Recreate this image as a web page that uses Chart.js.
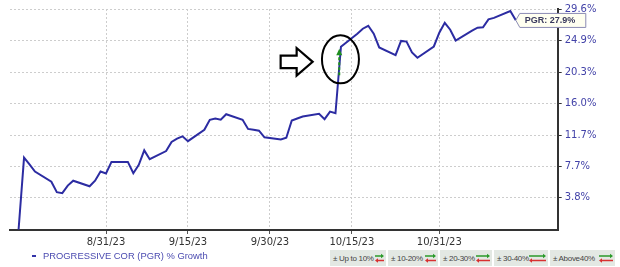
<!DOCTYPE html>
<html><head><meta charset="utf-8">
<script src="https://cdn.jsdelivr.net/npm/chart.js@4.4.1/dist/chart.umd.min.js"></script>
<style>
html,body{margin:0;padding:0;background:#fff;width:620px;height:267px;overflow:hidden;}
#wrap{position:relative;width:620px;height:267px;}
canvas{position:absolute;left:0;top:0;}
#legend{position:absolute;left:32px;top:250px;font:9.4px 'Liberation Sans',Arial,sans-serif;color:#4a4ab0;white-space:nowrap;line-height:12px}
#legend .dash{display:inline-block;width:4px;height:2px;background:#3434a8;vertical-align:middle;margin-right:7px;position:relative;top:-1px}
#bands{position:absolute;left:330px;top:250px;height:16px;}
.band{position:absolute;top:0;background:#e3e8e3;height:16px;display:flex;align-items:center;justify-content:space-between;padding:0 2px 0 3px;font:8px 'Liberation Sans',Arial,sans-serif;color:#444;white-space:nowrap;letter-spacing:-0.3px;box-sizing:border-box}
.band svg{display:block}
</style></head>
<body><div id="wrap"><canvas id="c" width="620" height="267"></canvas>
<div id="legend"><span class="dash"></span><span id="legtext"></span></div>
<div id="bands"></div></div>
<script>
// ---- data ----
const dates = ['2023-08-15','2023-08-16','2023-08-17','2023-08-18','2023-08-21','2023-08-22','2023-08-23','2023-08-24','2023-08-25',
 '2023-08-28','2023-08-29','2023-08-30','2023-08-31','2023-09-01','2023-09-04','2023-09-05','2023-09-06','2023-09-07','2023-09-08',
 '2023-09-11','2023-09-12','2023-09-13','2023-09-14','2023-09-15','2023-09-18','2023-09-19','2023-09-20','2023-09-21','2023-09-22',
 '2023-09-25','2023-09-26','2023-09-27','2023-09-28','2023-09-29','2023-10-02','2023-10-03','2023-10-04','2023-10-05','2023-10-06',
 '2023-10-09','2023-10-10','2023-10-11','2023-10-12','2023-10-13','2023-10-16','2023-10-17','2023-10-18','2023-10-19','2023-10-20',
 '2023-10-23','2023-10-24','2023-10-25','2023-10-26','2023-10-27','2023-10-30','2023-10-31','2023-11-01','2023-11-02','2023-11-03',
 '2023-11-06','2023-11-07','2023-11-08','2023-11-09','2023-11-10','2023-11-13','2023-11-14'];
const growth = [0.0,8.81,7.95,7.05,5.78,4.48,4.36,5.29,5.90,
 5.21,5.90,7.05,6.81,8.27,8.27,6.83,7.89,9.75,8.61,
 9.66,10.85,11.28,11.58,10.94,12.43,13.77,13.94,13.77,14.51,
 13.77,12.55,12.43,12.32,11.45,11.16,11.39,13.67,13.94,14.20,
 14.56,13.85,14.87,14.64,23.97,25.89,26.63,27.07,25.89,23.87,
 22.76,24.83,24.73,23.15,22.37,24.01,26.04,27.51,26.48,24.88,
 26.33,26.78,26.85,28.03,28.25,29.30,27.9];
const xTickDates = ['2023-08-31','2023-09-15','2023-09-30','2023-10-15','2023-10-31'];
const yTicks = [3.8,7.7,11.7,16.0,20.3,24.9,29.6];
const seriesLabel = 'PROGRESSIVE COR (PGR) % Growth';
const tickerLabel = 'PGR';
const bandLabels = ['\u00b1 Up to 10%','\u00b1 10-20%','\u00b1 20-30%','\u00b1 30-40%','\u00b1 Above40%'];
const jumpDate = '2023-10-13';
const jumpMid = 22.15;

// ---- helpers ----
const dayNum = s => Date.UTC(+s.slice(0,4), +s.slice(5,7)-1, +s.slice(8,10)) / 864e5;
const fmtDay = v => { const d = new Date(v*864e5); return (d.getUTCMonth()+1)+'/'+d.getUTCDate()+'/'+String(d.getUTCFullYear()).slice(2); };
const ref = dayNum('2023-08-31');

document.getElementById('legtext').textContent = seriesLabel;

// bands legend
const bandGeom = [[0,56,7],[58,50,9],[110,52,12],[164,54,15],[220,65,12]];
const bandsEl = document.getElementById('bands');
bandLabels.forEach((t,i)=>{
  const [l,w,aw] = bandGeom[i];
  const d = document.createElement('div');
  d.className='band'; d.style.left=l+'px'; d.style.width=w+'px';
  const s = document.createElement('span'); s.textContent = t; d.appendChild(s);
  const W = aw+2;
  d.insertAdjacentHTML('beforeend',
   `<svg width="${W}" height="10" viewBox="0 0 ${W} 10"><line x1="0" y1="3" x2="${W-2}" y2="3" stroke="#2a9a2a" stroke-width="1.5"/><polygon points="${W},3 ${W-3},0.8 ${W-3},5.2" fill="#2a9a2a"/><line x1="2" y1="7.5" x2="${W}" y2="7.5" stroke="#d83030" stroke-width="1.5"/><polygon points="0,7.5 3,5.3 3,9.7" fill="#d83030"/></svg>`);
  bandsEl.appendChild(d);
});

const annot = {
  id:'annot',
  afterDatasetsDraw(chart){
    const {ctx, scales:{x,y}} = chart;
    const jx = x.getPixelForValue(dayNum(jumpDate)) - 0.5;
    const jy = y.getPixelForValue(100 + jumpMid);
    ctx.save();
    // ellipse
    ctx.beginPath(); ctx.ellipse(jx, jy, 18.5, 24, 0, 0, Math.PI*2);
    ctx.lineWidth = 2; ctx.strokeStyle = '#000'; ctx.stroke();
    // green dashed arrow
    const gx = jx - 1.2;
    ctx.beginPath(); ctx.setLineDash([3,2]); ctx.moveTo(gx, jy+16); ctx.lineTo(gx, jy-4);
    ctx.strokeStyle = '#1f8f1f'; ctx.lineWidth = 2; ctx.stroke(); ctx.setLineDash([]);
    ctx.beginPath(); ctx.moveTo(gx, jy-10.5); ctx.lineTo(gx-3, jy-4); ctx.lineTo(gx+3, jy-4); ctx.closePath();
    ctx.fillStyle = '#1f8f1f'; ctx.fill();
    // block arrow
    const tx = jx - 27.8, c = jy + 2.5;
    ctx.beginPath();
    ctx.moveTo(tx-32, c-6.2); ctx.lineTo(tx-16, c-6.2); ctx.lineTo(tx-16, c-13.8); ctx.lineTo(tx, c);
    ctx.lineTo(tx-16, c+13.8); ctx.lineTo(tx-16, c+6.2); ctx.lineTo(tx-32, c+6.2); ctx.closePath();
    ctx.fillStyle = '#fff'; ctx.fill(); ctx.lineWidth = 2.2; ctx.strokeStyle = '#000'; ctx.lineJoin='miter'; ctx.stroke();
    // last value tag
    const li = growth.length-1;
    const px = x.getPixelForValue(dayNum(dates[li])), py = y.getPixelForValue(100+growth[li]);
    const left = px+4, top = py-6.8, w = 66, h = 14;
    ctx.beginPath();
    ctx.moveTo(left, top); ctx.lineTo(left+w, top); ctx.lineTo(left+w, top+h); ctx.lineTo(left, top+h); ctx.lineTo(px, py); ctx.closePath();
    ctx.fillStyle = '#fffff0'; ctx.fill(); ctx.lineWidth = 1; ctx.strokeStyle = '#8c8cb4'; ctx.stroke();
    ctx.fillStyle = '#3a3a5e'; ctx.font = 'bold 9px "Liberation Sans", Arial, sans-serif';
    ctx.textBaseline = 'middle'; ctx.textAlign = 'left';
    ctx.fillText(tickerLabel + ': ' + growth[li].toFixed(1) + '%', left+5, py+0.5);
    ctx.restore();
  }
};

new Chart(document.getElementById('c'), {
  type:'line',
  data:{ datasets:[{
    label: seriesLabel,
    data: dates.map((d,i)=>({x:dayNum(d), y:100+growth[i]})),
    borderColor:'#2c2ca2', borderWidth:2, pointRadius:0, fill:false, tension:0
  }]},
  options:{
    responsive:false, animation:false, events:[],
    layout:{padding:{left:10, top:6, right:0, bottom:0}},
    plugins:{legend:{display:false}, tooltip:{enabled:false}},
    scales:{
      x:{type:'linear', min:ref-17.57, max:ref+82.67,
        afterBuildTicks: s => { s.ticks = xTickDates.map(d=>({value:dayNum(d)})); },
        afterFit: s => { s.height = 37; },
        ticks:{callback: v => fmtDay(v), autoSkip:false, maxRotation:0, padding:2, color:'#333',
          font:{family:'DejaVu Sans', size:10}},
        grid:{color:'#cdcdcd', lineWidth:1, tickColor:'#555', tickLength:4},
        border:{color:'#333', width:2, dash:[2,2]}
      },
      y:{type:'logarithmic', position:'right', min:99.936, max:129.6,
        afterBuildTicks: s => { s.ticks = yTicks.map(v=>({value:100+v})); },
        afterFit: s => { s.width = 62.3; },
        ticks:{callback: v => (v-100).toFixed(1)+'%', autoSkip:false, padding:3, color:'#4242a8',
          font:{family:'DejaVu Sans', size:10}},
        grid:{color:'#cdcdcd', lineWidth:1, tickColor:'#333', tickLength:4},
        border:{color:'#333', width:2, dash:[2,2]}
      }
    }
  },
  plugins:[annot]
});
</script>
</body></html>
